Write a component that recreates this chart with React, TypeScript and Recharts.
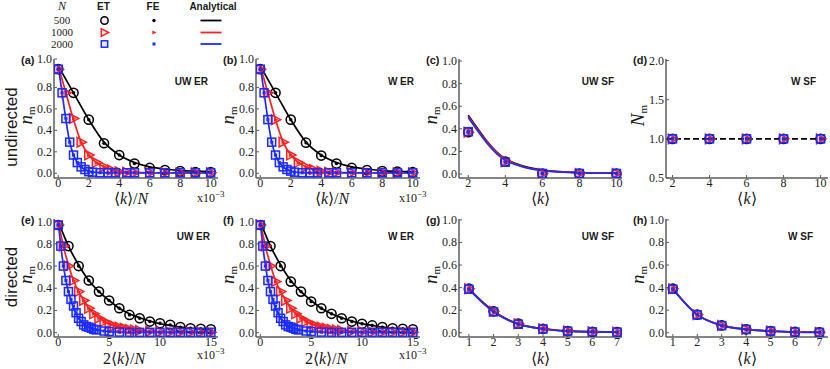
import React from 'react';
import { LineChart, Line, XAxis, YAxis, ReferenceLine } from 'recharts';

const SERIF = '"Liberation Serif","Times New Roman",serif';
const SANS = '"Liberation Sans",Arial,sans-serif';
const AXIS_GRAY = '#5c5c5c';
const TEXT_DARK = '#1a1a1a';

// ---------------- legend ----------------
const N_LABELS = ['500', '1000', '2000'];
const SERIES_COLORS = ['#000000', '#ff2020', '#1c2cff'];
const SERIES_SHAPES = ['circle', 'tri', 'square'];
const LEGEND_HEADERS = ['ET', 'FE', 'Analytical'];

// ---------------- ticks ----------------
const ER_UND_X_TICKS = [0, 2, 4, 6, 8, 10];
const ER_DIR_X_TICKS = [0, 5, 10, 15];
const SF_UND_X_TICKS = [2, 4, 6, 8, 10];
const SF_DIR_X_TICKS = [1, 2, 3, 4, 5, 6, 7];
const NM_TICKS = [0, 0.2, 0.4, 0.6, 0.8, 1.0];
const NM_TOP_TICKS = [0, 0.2, 0.4, 0.6, 0.8, 1.065];
const NM_TICK_LABELS = ['0.0', '0.2', '0.4', '0.6', '0.8', '1.0'];
const NNM_TICKS = [0.5, 1.0, 1.5, 2.0];
const NNM_TICK_LABELS = ['0.5', '1.0', '1.5', '2.0'];

// ---------------- (a) UW ER, undirected ----------------
const A_X_500 = [0, 1, 2, 3, 4, 5, 6, 7, 8, 9, 10];
const A_ET_500 = [0.97, 0.75, 0.5, 0.28, 0.17, 0.09, 0.05, 0.03, 0.02, 0.01, 0.01];
const A_AN_500 = [1.0, 0.75, 0.5, 0.29, 0.17, 0.1, 0.06, 0.04, 0.025, 0.02, 0.015];
const A_X_1000 = [0, 0.5, 1, 1.5, 2, 2.5, 3, 3.5, 4, 4.5, 5, 6, 7, 8, 9, 10];
const A_ET_1000 = [0.97, 0.75, 0.51, 0.29, 0.17, 0.1, 0.06, 0.03, 0.015, 0.01, 0.005, 0.005, 0.005, 0.005, 0.005, 0.005];
const A_AN_1000 = [1.0, 0.75, 0.5, 0.29, 0.17, 0.1, 0.06, 0.035, 0.02, 0.012, 0.008, 0.005, 0.005, 0.005, 0.005, 0.005];
const A_X_2000 = [0, 0.25, 0.5, 0.75, 1, 1.25, 1.5, 1.75, 2, 2.25, 2.75, 3.25, 3.75, 4.5, 5, 6, 7, 8, 9, 10];
const A_ET_2000 = [0.97, 0.75, 0.51, 0.29, 0.17, 0.1, 0.06, 0.035, 0.015, 0.01, 0.005, 0.005, 0.005, 0.005, 0.005, 0.005, 0.005, 0.005, 0.005, 0.005];
const A_AN_2000 = [1.0, 0.75, 0.5, 0.29, 0.17, 0.1, 0.06, 0.035, 0.02, 0.012, 0.006, 0.004, 0.003, 0.003, 0.003, 0.003, 0.003, 0.003, 0.003, 0.003];

// ---------------- (b) W ER, undirected ----------------
const B_X_500 = [0, 1, 2, 3, 4, 5, 6, 7, 8, 9, 10];
const B_ET_500 = [0.97, 0.75, 0.5, 0.285, 0.165, 0.09, 0.05, 0.03, 0.02, 0.015, 0.01];
const B_AN_500 = [1.0, 0.75, 0.5, 0.29, 0.17, 0.1, 0.06, 0.04, 0.025, 0.018, 0.015];
const B_X_1000 = [0, 0.5, 1, 1.5, 2, 2.5, 3, 3.5, 4, 4.5, 5, 6, 7, 8, 9, 10];
const B_ET_1000 = [0.97, 0.75, 0.5, 0.29, 0.17, 0.1, 0.06, 0.035, 0.02, 0.01, 0.008, 0.005, 0.005, 0.005, 0.005, 0.005];
const B_AN_1000 = [1.0, 0.75, 0.5, 0.29, 0.17, 0.1, 0.06, 0.035, 0.02, 0.012, 0.008, 0.005, 0.005, 0.005, 0.005, 0.005];
const B_X_2000 = [0, 0.25, 0.5, 0.75, 1, 1.25, 1.5, 1.75, 2, 2.25, 2.75, 3.25, 3.75, 4.5, 5, 6, 7, 8, 9, 10];
const B_ET_2000 = [0.97, 0.75, 0.5, 0.29, 0.17, 0.1, 0.06, 0.035, 0.02, 0.01, 0.005, 0.005, 0.005, 0.005, 0.005, 0.005, 0.005, 0.005, 0.005, 0.005];
const B_AN_2000 = [1.0, 0.75, 0.5, 0.29, 0.17, 0.1, 0.06, 0.035, 0.02, 0.012, 0.006, 0.004, 0.003, 0.003, 0.003, 0.003, 0.003, 0.003, 0.003, 0.003];

// ---------------- (c) UW SF, undirected ----------------
const C_X = [2, 4, 6, 8, 10];
const C_ET_500 = [0.37, 0.11, 0.005, 0.005, 0.005];
const C_ET_1000 = [0.37, 0.11, 0.005, 0.005, 0.005];
const C_ET_2000 = [0.375, 0.105, 0.005, 0.005, 0.005];
const C_AN_500 = [0.52, 0.135, 0.035, 0.013, 0.008];
const C_AN_1000 = [0.51, 0.13, 0.032, 0.012, 0.007];
const C_AN_2000 = [0.5, 0.122, 0.03, 0.011, 0.007];

// ---------------- (d) W SF, undirected ----------------
const D_X = [2, 4, 6, 8, 10];
const D_ET_500 = [1.0, 1.0, 1.0, 1.0, 1.0];
const D_ET_1000 = [1.0, 1.0, 1.0, 1.0, 1.0];
const D_ET_2000 = [1.0, 1.0, 1.0, 1.0, 1.0];
const D_ANALYTICAL = 1.0;

// ---------------- (e) UW ER, directed ----------------
const E_X_500 = [0, 1, 2, 3, 4, 5, 6, 7, 8, 9, 10, 11, 12, 13, 14, 15];
const E_ET_500 = [0.97, 0.78, 0.6, 0.47, 0.37, 0.29, 0.22, 0.16, 0.13, 0.1, 0.085, 0.07, 0.05, 0.04, 0.035, 0.03];
const E_AN_500 = [1.0, 0.78, 0.61, 0.47, 0.37, 0.29, 0.22, 0.17, 0.135, 0.105, 0.08, 0.065, 0.05, 0.04, 0.033, 0.027];
const E_X_1000 = [0, 0.5, 1, 1.5, 2, 2.5, 3, 3.5, 4, 4.5, 5, 5.5, 6, 6.5, 7, 7.5, 8, 9, 10, 11, 12, 13, 14, 15];
const E_ET_1000 = [0.97, 0.78, 0.6, 0.47, 0.37, 0.29, 0.22, 0.17, 0.13, 0.1, 0.08, 0.06, 0.05, 0.04, 0.03, 0.025, 0.02, 0.012, 0.008, 0.005, 0.004, 0.003, 0.003, 0.003];
const E_AN_1000 = [1.0, 0.78, 0.61, 0.47, 0.37, 0.29, 0.22, 0.17, 0.135, 0.105, 0.08, 0.065, 0.05, 0.04, 0.033, 0.027, 0.02, 0.013, 0.008, 0.005, 0.004, 0.003, 0.003, 0.003];
const E_X_2000 = [0, 0.25, 0.5, 0.75, 1, 1.25, 1.5, 1.75, 2, 2.25, 2.5, 2.75, 3, 3.25, 3.5, 3.75, 4.5, 5, 6, 7, 8, 9, 10, 11, 12, 13, 14, 15];
const E_ET_2000 = [0.97, 0.78, 0.6, 0.47, 0.37, 0.3, 0.24, 0.18, 0.13, 0.1, 0.07, 0.055, 0.05, 0.04, 0.03, 0.025, 0.015, 0.01, 0.005, 0.004, 0.003, 0.003, 0.003, 0.003, 0.003, 0.003, 0.003, 0.003];
const E_AN_2000 = [1.0, 0.78, 0.61, 0.47, 0.37, 0.29, 0.22, 0.17, 0.135, 0.105, 0.08, 0.065, 0.05, 0.04, 0.033, 0.027, 0.015, 0.01, 0.005, 0.003, 0.002, 0.002, 0.002, 0.002, 0.002, 0.002, 0.002, 0.002];

// ---------------- (f) W ER, directed ----------------
const F_X_500 = [0, 1, 2, 3, 4, 5, 6, 7, 8, 9, 10, 11, 12, 13, 14, 15];
const F_ET_500 = [0.97, 0.78, 0.6, 0.46, 0.37, 0.28, 0.22, 0.17, 0.13, 0.1, 0.08, 0.065, 0.05, 0.04, 0.035, 0.03];
const F_AN_500 = [1.0, 0.78, 0.61, 0.47, 0.37, 0.29, 0.22, 0.17, 0.135, 0.105, 0.08, 0.065, 0.05, 0.04, 0.033, 0.027];
const F_X_1000 = [0, 0.5, 1, 1.5, 2, 2.5, 3, 3.5, 4, 4.5, 5, 5.5, 6, 6.5, 7, 7.5, 8, 9, 10, 11, 12, 13, 14, 15];
const F_ET_1000 = [0.97, 0.78, 0.6, 0.46, 0.37, 0.29, 0.22, 0.17, 0.13, 0.1, 0.08, 0.06, 0.05, 0.04, 0.03, 0.025, 0.02, 0.012, 0.008, 0.005, 0.004, 0.003, 0.003, 0.003];
const F_AN_1000 = [1.0, 0.78, 0.61, 0.47, 0.37, 0.29, 0.22, 0.17, 0.135, 0.105, 0.08, 0.065, 0.05, 0.04, 0.033, 0.027, 0.02, 0.013, 0.008, 0.005, 0.004, 0.003, 0.003, 0.003];
const F_X_2000 = [0, 0.25, 0.5, 0.75, 1, 1.25, 1.5, 1.75, 2, 2.25, 2.5, 2.75, 3, 3.25, 3.5, 3.75, 4.5, 5, 6, 7, 8, 9, 10, 11, 12, 13, 14, 15];
const F_ET_2000 = [0.97, 0.78, 0.6, 0.47, 0.37, 0.3, 0.24, 0.18, 0.13, 0.1, 0.07, 0.055, 0.05, 0.04, 0.03, 0.025, 0.015, 0.01, 0.005, 0.004, 0.003, 0.003, 0.003, 0.003, 0.003, 0.003, 0.003, 0.003];
const F_AN_2000 = [1.0, 0.78, 0.61, 0.47, 0.37, 0.29, 0.22, 0.17, 0.135, 0.105, 0.08, 0.065, 0.05, 0.04, 0.033, 0.027, 0.015, 0.01, 0.005, 0.003, 0.002, 0.002, 0.002, 0.002, 0.002, 0.002, 0.002, 0.002];

// ---------------- (g) UW SF, directed ----------------
const G_X = [1, 2, 3, 4, 5, 6, 7];
const G_ET_500 = [0.39, 0.19, 0.08, 0.035, 0.015, 0.008, 0.005];
const G_ET_1000 = [0.39, 0.19, 0.08, 0.035, 0.015, 0.008, 0.005];
const G_ET_2000 = [0.385, 0.185, 0.075, 0.033, 0.014, 0.007, 0.005];
const G_AN_500 = [0.39, 0.19, 0.078, 0.035, 0.016, 0.009, 0.006];
const G_AN_1000 = [0.39, 0.188, 0.077, 0.034, 0.015, 0.008, 0.005];
const G_AN_2000 = [0.385, 0.185, 0.075, 0.033, 0.014, 0.007, 0.004];

// ---------------- (h) W SF, directed ----------------
const H_X = [1, 2, 3, 4, 5, 6, 7];
const H_ET_500 = [0.39, 0.16, 0.065, 0.03, 0.015, 0.007, 0.003];
const H_ET_1000 = [0.39, 0.16, 0.065, 0.03, 0.015, 0.007, 0.003];
const H_ET_2000 = [0.385, 0.158, 0.063, 0.029, 0.014, 0.006, 0.003];
const H_AN_500 = [0.39, 0.16, 0.066, 0.03, 0.015, 0.007, 0.004];
const H_AN_1000 = [0.39, 0.16, 0.065, 0.03, 0.014, 0.007, 0.003];
const H_AN_2000 = [0.385, 0.158, 0.063, 0.029, 0.014, 0.006, 0.003];

// ---------------- helpers ----------------
const rows = (x: number[], et: number[], an: number[] | null) =>
  x.map((v, i) => ({ x: v, et: et[i], an: an ? an[i] : null }));

const PANELS = [
  {
    id: 'a', label: '(a)', title: 'UW ER', titleEnd: 208, box: [54, 59, 164, 119],
    xDomain: [-0.28, 10.48], yDomain: [-0.044, 1.065], xTicks: ER_UND_X_TICKS,
    yTicks: NM_TOP_TICKS, yLabels: NM_TICK_LABELS, xLabel: 'kN', yLabel: 'n', exponent: true, xLabelShift: -5,
    series: [rows(A_X_500, A_ET_500, A_AN_500), rows(A_X_1000, A_ET_1000, A_AN_1000), rows(A_X_2000, A_ET_2000, A_AN_2000)],
  },
  {
    id: 'b', label: '(b)', title: 'W ER', titleEnd: 414, box: [256, 59, 164, 119],
    xDomain: [-0.28, 10.48], yDomain: [-0.044, 1.065], xTicks: ER_UND_X_TICKS,
    yTicks: NM_TOP_TICKS, yLabels: NM_TICK_LABELS, xLabel: 'kN', yLabel: 'n', exponent: true, xLabelShift: -6,
    series: [rows(B_X_500, B_ET_500, B_AN_500), rows(B_X_1000, B_ET_1000, B_AN_1000), rows(B_X_2000, B_ET_2000, B_AN_2000)],
  },
  {
    id: 'c', label: '(c)', title: 'UW SF', titleEnd: 614, box: [459, 59, 163, 119],
    xDomain: [1.5, 10.3], yDomain: [-0.035, 1.018], xTicks: SF_UND_X_TICKS,
    yTicks: NM_TICKS, yLabels: NM_TICK_LABELS, xLabel: 'k', yLabel: 'n', exponent: false, xLabelShift: 0,
    series: [rows(C_X, C_ET_500, C_AN_500), rows(C_X, C_ET_1000, C_AN_1000), rows(C_X, C_ET_2000, C_AN_2000)],
  },
  {
    id: 'd', label: '(d)', title: 'W SF', titleEnd: 816, box: [666, 59, 162, 119],
    xDomain: [1.65, 10.4], yDomain: [0.5, 2.02], xTicks: SF_UND_X_TICKS,
    yTicks: NNM_TICKS, yLabels: NNM_TICK_LABELS, xLabel: 'k', yLabel: 'N', exponent: false, xLabelShift: 0,
    refY: D_ANALYTICAL,
    series: [rows(D_X, D_ET_500, null), rows(D_X, D_ET_1000, null), rows(D_X, D_ET_2000, null)],
  },
  {
    id: 'e', label: '(e)', title: 'UW ER', titleEnd: 210, box: [54, 219, 164, 118],
    xDomain: [-0.42, 15.7], yDomain: [-0.039, 1.024], xTicks: ER_DIR_X_TICKS,
    yTicks: NM_TICKS, yLabels: NM_TICK_LABELS, xLabel: '2kN', yLabel: 'n', exponent: true, xLabelShift: -12,
    series: [rows(E_X_500, E_ET_500, E_AN_500), rows(E_X_1000, E_ET_1000, E_AN_1000), rows(E_X_2000, E_ET_2000, E_AN_2000)],
  },
  {
    id: 'f', label: '(f)', title: 'W ER', titleEnd: 414, box: [256, 219, 164, 118],
    xDomain: [-0.42, 15.7], yDomain: [-0.039, 1.024], xTicks: ER_DIR_X_TICKS,
    yTicks: NM_TICKS, yLabels: NM_TICK_LABELS, xLabel: '2kN', yLabel: 'n', exponent: true, xLabelShift: -12,
    series: [rows(F_X_500, F_ET_500, F_AN_500), rows(F_X_1000, F_ET_1000, F_AN_1000), rows(F_X_2000, F_ET_2000, F_AN_2000)],
  },
  {
    id: 'g', label: '(g)', title: 'UW SF', titleEnd: 614, box: [459, 219, 163, 118],
    xDomain: [0.6, 7.2], yDomain: [-0.038, 1.008], xTicks: SF_DIR_X_TICKS,
    yTicks: NM_TICKS, yLabels: NM_TICK_LABELS, xLabel: 'k', yLabel: 'n', exponent: false, xLabelShift: 0,
    series: [rows(G_X, G_ET_500, G_AN_500), rows(G_X, G_ET_1000, G_AN_1000), rows(G_X, G_ET_2000, G_AN_2000)],
  },
  {
    id: 'h', label: '(h)', title: 'W SF', titleEnd: 813, box: [666, 219, 162, 118],
    xDomain: [0.72, 7.35], yDomain: [-0.038, 1.008], xTicks: SF_DIR_X_TICKS,
    yTicks: NM_TICKS, yLabels: NM_TICK_LABELS, xLabel: 'k', yLabel: 'n', exponent: false, xLabelShift: 0,
    series: [rows(H_X, H_ET_500, H_AN_500), rows(H_X, H_ET_1000, H_AN_1000), rows(H_X, H_ET_2000, H_AN_2000)],
  },
];

// ---------------- markers ----------------
function etShape(shape: string, color: string, cx: number, cy: number, key: string, s = 1) {
  if (shape === 'circle')
    return <circle key={key} cx={cx} cy={cy} r={4.6 * s} fill={color} fillOpacity={0.06} stroke={color} strokeWidth={1.5} />;
  if (shape === 'tri')
    return (
      <polygon key={key}
        points={`${cx - 4 * s},${cy - 4.8 * s} ${cx + 5.2 * s},${cy} ${cx - 4 * s},${cy + 4.8 * s}`}
        fill={color} fillOpacity={0.1} stroke={color} strokeWidth={1.5} />
    );
  return <rect key={key} x={cx - 4 * s} y={cy - 4 * s} width={8 * s} height={8 * s} fill={color} fillOpacity={0.1} stroke={color} strokeWidth={1.5} />;
}

function feShape(shape: string, color: string, cx: number, cy: number, key: string) {
  if (shape === 'circle') return <circle key={key} cx={cx} cy={cy} r={1.7} fill={color} />;
  if (shape === 'tri')
    return <polygon key={key} points={`${cx - 1.6},${cy - 2.1} ${cx + 2.6},${cy} ${cx - 1.6},${cy + 2.1}`} fill={color} />;
  return <rect key={key} x={cx - 1.5} y={cy - 1.5} width={3} height={3} fill={color} />;
}

const makeDot = (kind: 'et' | 'fe', shape: string, color: string) => (p: any) => {
  const { cx, cy, index } = p;
  const key = `${kind}-${shape}-${index}`;
  if (cx == null || cy == null || !isFinite(cx) || !isFinite(cy)) return <g key={key} />;
  return kind === 'et' ? etShape(shape, color, cx, cy, key) : feShape(shape, color, cx, cy, key);
};

// ---------------- ticks ----------------
const XTick = (p: any) => (
  <text x={p.x} y={p.y} dy={8} textAnchor="middle" fontFamily={SERIF} fontSize={12} fill="#222">
    {String(p.payload.value)}
  </text>
);
const makeYTick = (fmt: (v: number) => string) => (p: any) => (
  <text x={p.x} y={p.y} dy={4} textAnchor="end" fontFamily={SERIF} fontSize={12} fill="#222">
    {fmt(p.payload.value)}
  </text>
);

// ---------------- panel ----------------
const YW = 32, MT = 10, MR = 6, XH = 24;
const AXIS_LINE = { stroke: AXIS_GRAY, strokeWidth: 1.5 };
const TICK_LINE = { stroke: AXIS_GRAY, strokeWidth: 1 };

function Panel({ cfg }: { cfg: any }) {
  const [bx, by, bw, bh] = cfg.box;
  const width = YW + bw + MR;
  const height = MT + bh + XH;
  const yFmt = (v: number) => {
    const i = cfg.yTicks.findIndex((t: number) => Math.abs(t - v) < 1e-9);
    return i >= 0 ? cfg.yLabels[i] : String(v);
  };
  const children: any[] = [];
  cfg.series.forEach((data: any[], i: number) => {
    const color = SERIES_COLORS[i];
    const shape = SERIES_SHAPES[i];
    if (data[0].an !== null) {
      children.push(
        <Line key={`an-${i}`} xAxisId="b" yAxisId="l" data={data} dataKey="an" type="monotone"
          stroke={color} strokeWidth={1.7} dot={false} activeDot={false} isAnimationActive={false} />
      );
    }
    children.push(
      <Line key={`et-${i}`} xAxisId="b" yAxisId="l" data={data} dataKey="et" stroke="none" strokeWidth={0}
        dot={makeDot('et', shape, color)} activeDot={false} isAnimationActive={false} />
    );
    children.push(
      <Line key={`fe-${i}`} xAxisId="b" yAxisId="l" data={data} dataKey="et" stroke="none" strokeWidth={0}
        dot={makeDot('fe', shape, color)} activeDot={false} isAnimationActive={false} />
    );
  });
  return (
    <div style={{ position: 'absolute', left: bx - YW, top: by - MT, width, height }}>
      <LineChart width={width} height={height} margin={{ top: MT, right: MR, bottom: 0, left: 0 }}>
        <XAxis xAxisId="b" type="number" dataKey="x" domain={cfg.xDomain} allowDataOverflow ticks={cfg.xTicks}
          interval={0} tickSize={-3} tickMargin={4} height={XH} axisLine={AXIS_LINE} tickLine={TICK_LINE} tick={XTick} />
        <XAxis xAxisId="t" orientation="top" type="number" dataKey="x" domain={cfg.xDomain} allowDataOverflow ticks={cfg.xTicks}
          interval={0} tickSize={-3} height={0} axisLine={AXIS_LINE} tickLine={TICK_LINE} tick={false} />
        <YAxis yAxisId="l" type="number" domain={cfg.yDomain} allowDataOverflow ticks={cfg.yTicks} interval={0}
          width={YW} tickSize={-3} tickMargin={5} axisLine={AXIS_LINE} tickLine={TICK_LINE} tick={makeYTick(yFmt)} />
        <YAxis yAxisId="r" orientation="right" type="number" domain={cfg.yDomain} allowDataOverflow ticks={cfg.yTicks} interval={0}
          width={0} tickSize={-3} axisLine={AXIS_LINE} tickLine={TICK_LINE} tick={false} />
        {cfg.refY !== undefined && (
          <ReferenceLine xAxisId="b" yAxisId="l" y={cfg.refY} stroke="#000" strokeWidth={1.6} strokeDasharray="6 3" />
        )}
        {children}
      </LineChart>
    </div>
  );
}

// ---------------- annotations ----------------
const LEG_ROWS = [20.5, 32.5, 44];

function Annotations() {
  return (
    <svg width={830} height={369} style={{ position: 'absolute', left: 0, top: 0, pointerEvents: 'none' }}>
      {/* legend */}
      <text x={62} y={10} textAnchor="middle" fontFamily={SERIF} fontStyle="italic" fontSize={12} fill={TEXT_DARK}>N</text>
      {LEGEND_HEADERS.map((h, i) => (
        <text key={h} x={[103.5, 153, 213][i]} y={10} textAnchor="middle" fontFamily={SANS} fontWeight="bold" fontSize={10} fill={TEXT_DARK}>{h}</text>
      ))}
      {N_LABELS.map((n, i) => (
        <g key={n}>
          <text x={62} y={LEG_ROWS[i] + 3.8} textAnchor="middle" fontFamily={SERIF} fontSize={11} fill={TEXT_DARK}>{n}</text>
          {etShape(SERIES_SHAPES[i], SERIES_COLORS[i], 104.5, LEG_ROWS[i], `leg-et-${i}`, 0.8)}
          {feShape(SERIES_SHAPES[i], SERIES_COLORS[i], 154, LEG_ROWS[i], `leg-fe-${i}`)}
          <line x1={200.5} x2={221.5} y1={LEG_ROWS[i]} y2={LEG_ROWS[i]} stroke={SERIES_COLORS[i]} strokeWidth={1.8} />
        </g>
      ))}

      {/* row labels */}
      <text transform="translate(17,127) rotate(-90)" textAnchor="middle" fontFamily={SANS} fontSize={17} fill={TEXT_DARK}>undirected</text>
      <text transform="translate(17,277) rotate(-90)" textAnchor="middle" fontFamily={SANS} fontSize={17} fill={TEXT_DARK}>directed</text>

      {PANELS.map((p: any) => {
        const [bx, by, bw, bh] = p.box;
        const top = by < 150;
        const xLabY = top ? 204 : 364;
        const cx = bx + bw / 2 + p.xLabelShift;
        return (
          <g key={p.id}>
            <text x={bx - 33} y={by + 4.5} fontFamily={SANS} fontWeight="bold" fontSize={11} fill={TEXT_DARK}>{p.label}</text>
            <text x={p.titleEnd} y={by + (top ? 26 : 20.5)} textAnchor="end" fontFamily={SANS} fontWeight="bold" fontSize={10} fill={TEXT_DARK}>{p.title}</text>
            <text transform={`translate(${bx - 22},${by + bh / 2 - 3}) rotate(-90)`} textAnchor="middle" fontFamily={SERIF} fill={TEXT_DARK}>
              <tspan fontStyle="italic" fontSize={19}>{p.yLabel}</tspan>
              <tspan fontSize={11} dy={3}>m</tspan>
            </text>
            <text x={cx} y={xLabY} textAnchor="middle" fontFamily={SERIF} fontSize={16} fill={TEXT_DARK}>
              {p.xLabel === '2kN' ? '2' : ''}⟨<tspan fontStyle="italic">k</tspan>⟩{p.xLabel === 'k' ? '' : '/'}
              {p.xLabel === 'k' ? null : <tspan fontStyle="italic">N</tspan>}
            </text>
            {p.exponent && (
              <text x={bx + bw - 21} y={top ? 202 : 359} fontFamily={SERIF} fontSize={12} fill={TEXT_DARK}>
                x10<tspan dy={-5} fontSize={9}>−3</tspan>
              </text>
            )}
          </g>
        );
      })}
    </svg>
  );
}

export default function App() {
  return (
    <div style={{ position: 'absolute', left: 0, top: 0, width: 830, height: 369, background: '#fff', overflow: 'hidden' }}>
      {PANELS.map((p) => <Panel key={p.id} cfg={p} />)}
      <Annotations />
    </div>
  );
}
